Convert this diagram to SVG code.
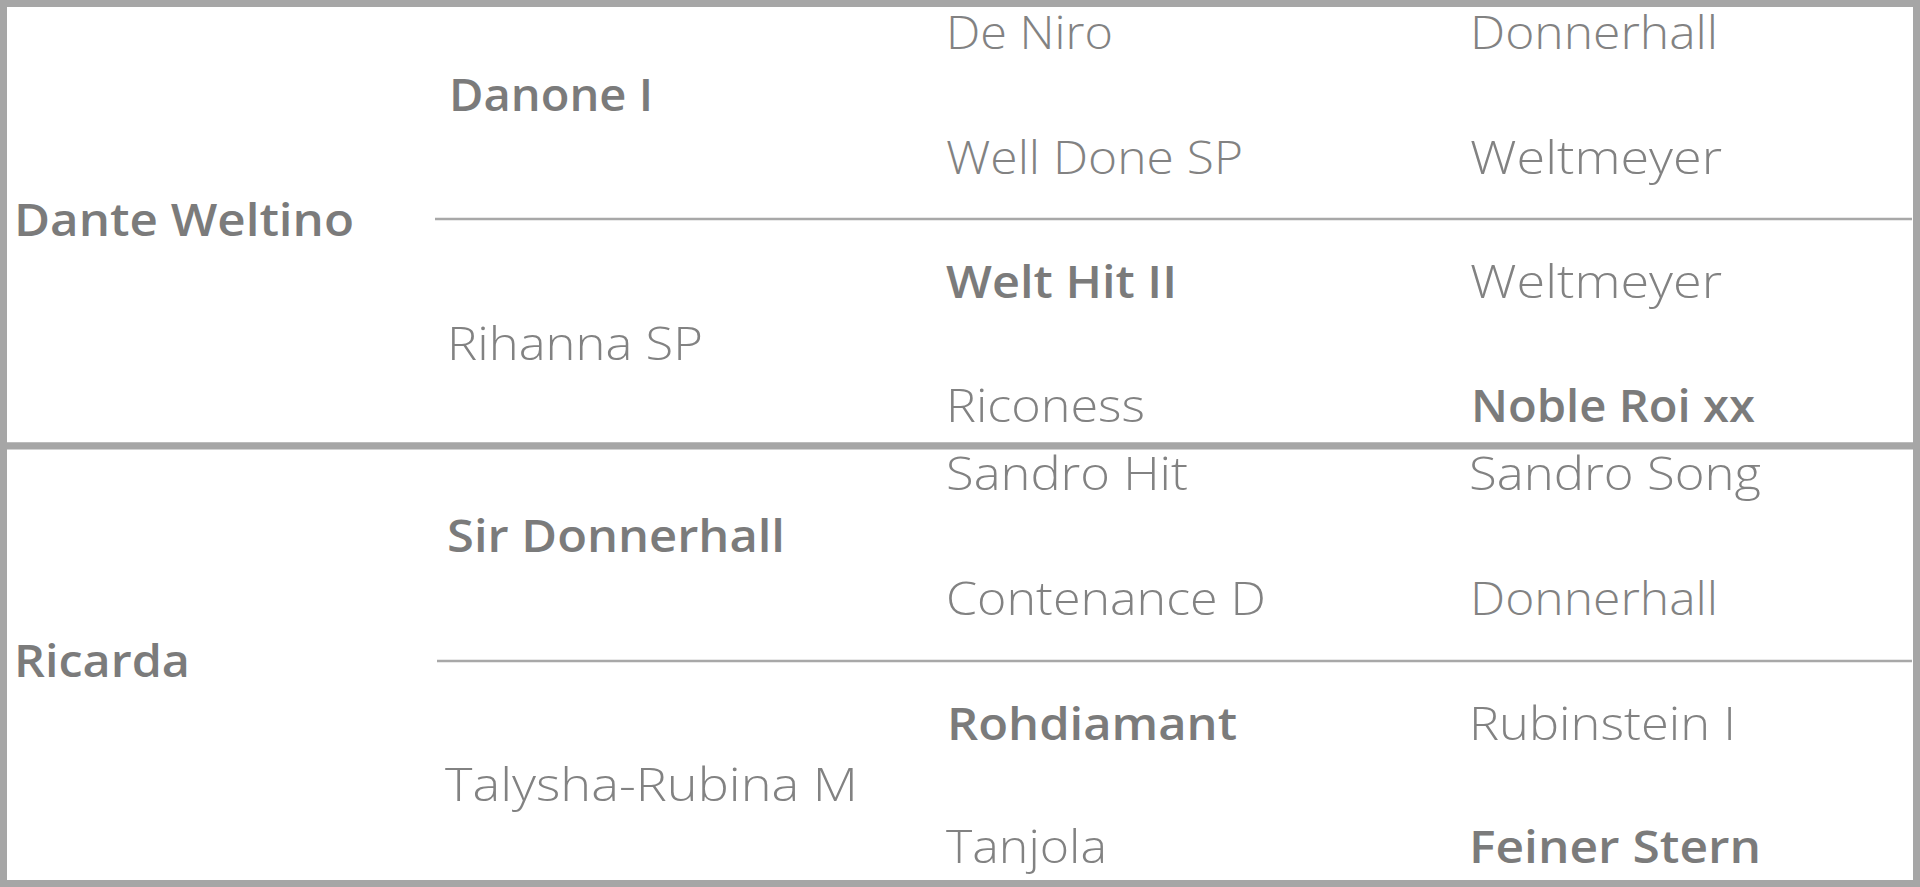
<svg xmlns="http://www.w3.org/2000/svg" width="1920" height="887" viewBox="0 0 1920 887">
<style>
.box{fill:#ffffff;stroke:#a6a6a6;stroke-width:7}
.sep{stroke:#a8a8a8;stroke-width:2.5;fill:none}
text{font-family:"Open Sans","Liberation Sans",Arial,sans-serif;font-size:46px;fill:#828282}
.b{font-weight:600;fill:#7b7b7b}
.l{font-weight:300}
</style>
<rect width="1920" height="887" fill="#ffffff"/>
<g id="frame">
<rect class="box" x="3.5" y="3.5" width="1913" height="442.5"/>
<rect class="box" x="3.5" y="446" width="1913" height="437.5"/>
</g>
<g id="connectors">
<line class="sep" x1="435" y1="219" x2="1912" y2="219"/>
<line class="sep" x1="437" y1="661" x2="1912" y2="661"/>
</g>
<g id="dante-weltino"><text class="b" x="14" y="236" textLength="340" lengthAdjust="spacingAndGlyphs">Dante Weltino</text></g>
<g id="danone-i"><text class="b" x="449" y="111" textLength="204" lengthAdjust="spacingAndGlyphs">Danone I</text></g>
<g id="rihanna-sp"><text class="l" x="447" y="360" textLength="256" lengthAdjust="spacingAndGlyphs">Rihanna SP</text></g>
<g id="de-niro"><text class="l" x="946" y="49" textLength="167" lengthAdjust="spacingAndGlyphs">De Niro</text></g>
<g id="well-done-sp"><text class="l" x="946" y="174" textLength="297" lengthAdjust="spacingAndGlyphs">Well Done SP</text></g>
<g id="welt-hit-ii"><text class="b" x="946" y="298" textLength="231" lengthAdjust="spacingAndGlyphs">Welt Hit II</text></g>
<g id="riconess"><text class="l" x="946" y="422" textLength="199" lengthAdjust="spacingAndGlyphs">Riconess</text></g>
<g id="donnerhall-1"><text class="l" x="1470" y="49" textLength="248" lengthAdjust="spacingAndGlyphs">Donnerhall</text></g>
<g id="weltmeyer-1"><text class="l" x="1470" y="174" textLength="252" lengthAdjust="spacingAndGlyphs">Weltmeyer</text></g>
<g id="weltmeyer-2"><text class="l" x="1470" y="298" textLength="252" lengthAdjust="spacingAndGlyphs">Weltmeyer</text></g>
<g id="noble-roi-xx"><text class="b" x="1471" y="422" textLength="284" lengthAdjust="spacingAndGlyphs">Noble Roi xx</text></g>
<g id="ricarda"><text class="b" x="14" y="677" textLength="176" lengthAdjust="spacingAndGlyphs">Ricarda</text></g>
<g id="sir-donnerhall"><text class="b" x="447" y="552" textLength="338" lengthAdjust="spacingAndGlyphs">Sir Donnerhall</text></g>
<g id="talysha-rubina-m"><text class="l" x="445" y="801" textLength="413" lengthAdjust="spacingAndGlyphs">Talysha-Rubina M</text></g>
<g id="sandro-hit"><text class="l" x="946" y="490" textLength="242" lengthAdjust="spacingAndGlyphs">Sandro Hit</text></g>
<g id="contenance-d"><text class="l" x="946" y="615" textLength="320" lengthAdjust="spacingAndGlyphs">Contenance D</text></g>
<g id="rohdiamant"><text class="b" x="947" y="740" textLength="290" lengthAdjust="spacingAndGlyphs">Rohdiamant</text></g>
<g id="tanjola"><text class="l" x="946" y="863" textLength="161" lengthAdjust="spacingAndGlyphs">Tanjola</text></g>
<g id="sandro-song"><text class="l" x="1469" y="490" textLength="292" lengthAdjust="spacingAndGlyphs">Sandro Song</text></g>
<g id="donnerhall-2"><text class="l" x="1470" y="615" textLength="248" lengthAdjust="spacingAndGlyphs">Donnerhall</text></g>
<g id="rubinstein-i"><text class="l" x="1469" y="740" textLength="267" lengthAdjust="spacingAndGlyphs">Rubinstein I</text></g>
<g id="feiner-stern"><text class="b" x="1469" y="863" textLength="292" lengthAdjust="spacingAndGlyphs">Feiner Stern</text></g>
</svg>
